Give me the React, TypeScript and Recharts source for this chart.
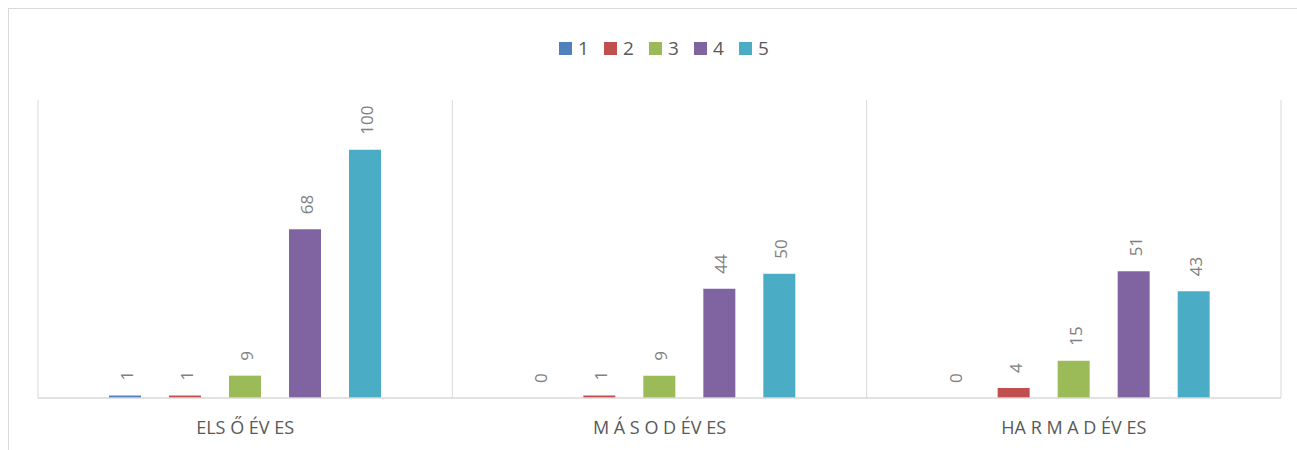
import React from "react";
import { BarChart, Bar, XAxis, YAxis, CartesianGrid, Legend, LabelList } from "recharts";

const categories = ["ELS Ő ÉV ES", "M Á S O D ÉV ES", "HA R M A D ÉV ES"];
const seriesNames = ["1", "2", "3", "4", "5"];
const series1 = [1, 0, 0];
const series2 = [1, 1, 4];
const series3 = [9, 9, 15];
const series4 = [68, 44, 51];
const series5 = [100, 50, 43];
const seriesValues = [series1, series2, series3, series4, series5];
const colors = ["#4F81BD", "#C0504D", "#9BBB59", "#8064A2", "#4BACC6"];
const yDomain = [0, 120];

const data = categories.map((c, i) => {
  const row: any = { name: c };
  seriesNames.forEach((s, k) => {
    row["s" + s] = seriesValues[k][i];
  });
  return row;
});

const FONT = "'Open Sans', 'Liberation Sans', sans-serif";

const ValueLabel = (props: any) => {
  const { x, y, width, height, value } = props;
  const top = Math.min(Number(y), Number(y) + Number(height || 0));
  const cx = Number(x) + Number(width) / 2 + 1.5;
  const ty = top - 15;
  return (
    <text
      x={cx}
      y={ty}
      transform={`rotate(-90, ${cx}, ${ty})`}
      textAnchor="start"
      dominantBaseline="central"
      fill="#808080"
      fontSize={17}
      fontFamily={FONT}
    >
      {value}
    </text>
  );
};

const CategoryTick = (props: any) => {
  const { x, y, payload } = props;
  return (
    <text
      x={Number(x)}
      y={Number(y) + 36}
      textAnchor="middle"
      fill="#595959"
      fontSize={18}
      fontFamily={FONT}
    >
      {payload.value}
    </text>
  );
};

const LegendContent = (props: any) => {
  const { payload } = props;
  return (
    <div style={{ display: "flex", flexDirection: "row", fontFamily: FONT }}>
      {(payload || []).map((p: any, i: number) => (
        <div
          key={i}
          style={{ display: "flex", alignItems: "center", width: 45, height: 20 }}
        >
          <div style={{ width: 13, height: 13, background: p.color }} />
          <span
            style={{
              marginLeft: 6,
              fontSize: 19,
              lineHeight: "20px",
              color: "#595959",
            }}
          >
            {p.value}
          </span>
        </div>
      ))}
    </div>
  );
};

export default function App() {
  return (
    <div
      style={{
        position: "fixed",
        top: 0,
        left: 0,
        width: 1297,
        height: 450,
        overflow: "hidden",
        background: "#fff",
      }}
    >
      <div
        style={{
          position: "absolute",
          left: 8,
          top: 8,
          width: 1289,
          height: 1,
          background: "#d9d9d9",
        }}
      />
      <div
        style={{
          position: "absolute",
          left: 8,
          top: 8,
          width: 1,
          height: 442,
          background: "#d9d9d9",
        }}
      />
      <div style={{ position: "absolute", left: 9, top: 9 }}>
        <BarChart
          width={1288}
          height={441}
          data={data}
          margin={{ top: 91, right: 16, bottom: 22, left: 29 }}
          barCategoryGap={71}
          barGap={28}
        >
          <CartesianGrid
            horizontal={false}
            vertical={true}
            stroke="#d9d9d9"
            verticalCoordinatesGenerator={({ offset }: any) => [
              offset.left,
              offset.left + offset.width / 3,
              offset.left + (2 * offset.width) / 3,
              offset.left + offset.width,
            ]}
          />
          <XAxis
            dataKey="name"
            axisLine={{ stroke: "#d9d9d9", strokeWidth: 1.5 }}
            tickLine={false}
            tickSize={0}
            tickMargin={0}
            height={30}
            interval={0}
            tick={<CategoryTick />}
          />
          <YAxis hide domain={yDomain} />
          <Legend
            layout="vertical"
            align="center"
            verticalAlign="middle"
            wrapperStyle={{ top: 29, left: 550, width: 240, height: 20 }}
            content={<LegendContent />}
          />
          {seriesNames.map((s, k) => (
            <Bar
              key={s}
              dataKey={"s" + s}
              name={s}
              fill={colors[k]}
              minPointSize={0.01}
              isAnimationActive={false}
            >
              <LabelList dataKey={"s" + s} content={<ValueLabel />} />
            </Bar>
          ))}
        </BarChart>
      </div>
    </div>
  );
}
